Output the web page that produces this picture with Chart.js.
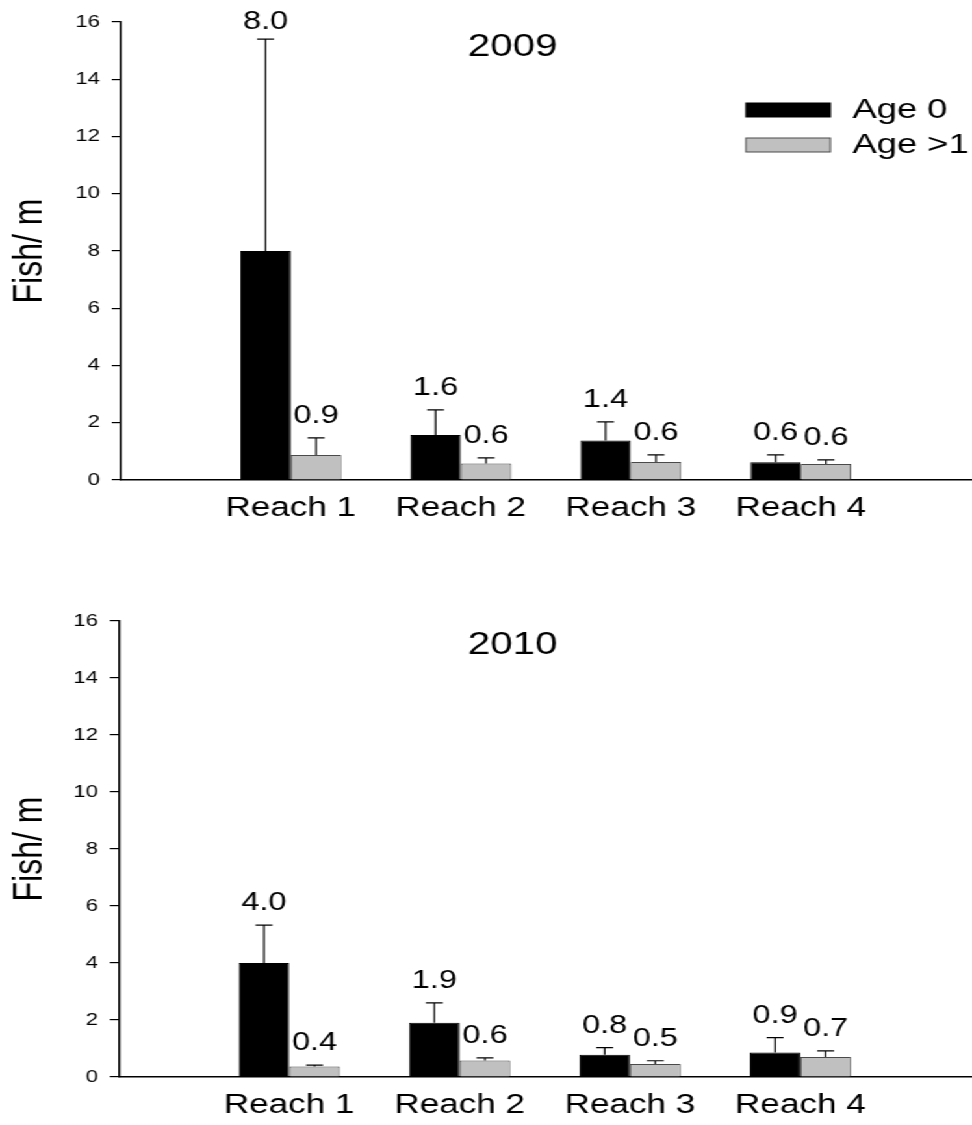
<!DOCTYPE html>
<html>
<head>
<meta charset="utf-8">
<script src="https://cdn.jsdelivr.net/npm/chart.js@4.4.1/dist/chart.umd.min.js"></script>
<style>
    html, body { margin: 0; padding: 0; background: #fff; overflow: hidden; }
    /* the figure is stretched horizontally, so draw narrow and widen it */
    .stretch { width: 748px; transform: scaleX(1.2995); transform-origin: 0 0; }
    canvas { display: block; }
</style>
</head>
<body>
<div class="stretch">
    <canvas id="chart-2009" width="748" height="560"></canvas>
    <canvas id="chart-2010" width="748" height="565"></canvas>
</div>
<script>
const reaches = ['Reach 1', 'Reach 2', 'Reach 3', 'Reach 4'];
const seriesNames = ['Age 0', 'Age >1'];

// 2009 means and upper error (added on top of the mean)
const age0_2009 = [8.0, 1.57, 1.38, 0.62];
const age0Err_2009 = [7.4, 0.88, 0.65, 0.26];
const age1_2009 = [0.87, 0.58, 0.63, 0.56];
const age1Err_2009 = [0.6, 0.19, 0.25, 0.14];

// 2010
const age0_2010 = [4.0, 1.9, 0.78, 0.86];
const age0Err_2010 = [1.33, 0.7, 0.25, 0.52];
const age1_2010 = [0.37, 0.58, 0.46, 0.70];
const age1Err_2010 = [0.05, 0.09, 0.11, 0.22];

Chart.defaults.font.family = '"Liberation Sans", Arial, sans-serif';
Chart.defaults.color = '#000';
Chart.defaults.animation = false;

const errorBarsPlugin = {
    id: 'errorBars',
    afterDatasetsDraw(chart) {
        const ctx = chart.ctx;
        const y = chart.scales.y;
        ctx.save();
        chart.data.datasets.forEach((dataset, i) => {
            const meta = chart.getDatasetMeta(i);
            meta.data.forEach((bar, j) => {
                const value = dataset.data[j].y;
                const top = y.getPixelForValue(value + dataset.errors[j]);

                ctx.strokeStyle = '#000';
                ctx.lineWidth = 1.2;
                ctx.beginPath();
                ctx.moveTo(bar.x, bar.y);
                ctx.lineTo(bar.x, top);
                ctx.moveTo(bar.x - 6.5, top);
                ctx.lineTo(bar.x + 6.5, top);
                ctx.stroke();

                ctx.fillStyle = '#000';
                ctx.font = '25px "Liberation Sans", Arial, sans-serif';
                ctx.textAlign = 'center';
                ctx.textBaseline = 'middle';
                ctx.fillText(value.toFixed(1), bar.x, Math.max(top - 22, 22));
            });
        });
        ctx.restore();
    }
};

function yearTitlePlugin(text, x, y) {
    return {
        id: 'yearTitle',
        afterDraw(chart) {
            const ctx = chart.ctx;
            ctx.save();
            ctx.fillStyle = '#000';
            ctx.font = '31px "Liberation Sans", Arial, sans-serif';
            ctx.textAlign = 'center';
            ctx.textBaseline = 'middle';
            ctx.fillText(text, x, y);
            ctx.restore();
        }
    };
}

const boxLegendPlugin = {
    id: 'boxLegend',
    afterDraw(chart) {
        const ctx = chart.ctx;
        const rows = [110, 145];
        ctx.save();
        chart.data.datasets.forEach((dataset, i) => {
            const cy = rows[i];
            ctx.fillStyle = dataset.backgroundColor;
            ctx.strokeStyle = dataset.borderColor;
            ctx.lineWidth = 1;
            ctx.fillRect(574, cy - 7, 65, 14);
            ctx.strokeRect(574, cy - 7, 65, 14);

            ctx.fillStyle = '#000';
            ctx.font = '28px "Liberation Sans", Arial, sans-serif';
            ctx.textAlign = 'left';
            ctx.textBaseline = 'middle';
            ctx.fillText(dataset.label, 656, cy);
        });
        ctx.restore();
    }
};

function makeChart(canvasId, year, age0, age0Err, age1, age1Err, layout, withLegend) {
    const toPoints = values => values.map((v, i) => ({x: i + 1, y: v}));

    const plugins = [errorBarsPlugin, yearTitlePlugin(year, 394.6, layout.titleY)];
    if (withLegend) {
        plugins.push(boxLegendPlugin);
    }

    return new Chart(document.getElementById(canvasId), {
        type: 'bar',
        data: {
            datasets: [{
                label: seriesNames[0],
                data: toPoints(age0),
                errors: age0Err,
                backgroundColor: '#000000',
                borderColor: '#000000',
                borderWidth: 1,
            }, {
                label: seriesNames[1],
                data: toPoints(age1),
                errors: age1Err,
                backgroundColor: '#c0c0c0',
                borderColor: '#4a4a4a',
                borderWidth: 1,
            }]
        },
        options: {
            responsive: false,
            layout: {
                padding: {top: layout.top, left: 0, right: 1, bottom: 0}
            },
            categoryPercentage: 0.594,
            barPercentage: 1.0,
            plugins: {
                legend: {display: false},
                tooltip: {enabled: false}
            },
            scales: {
                x: {
                    type: 'linear',
                    offset: false,
                    min: 0,
                    max: 5,
                    grid: {display: false, drawTicks: false},
                    border: {display: true, color: '#000', width: 1.5},
                    ticks: {
                        stepSize: 1,
                        autoSkip: false,
                        maxRotation: 0,
                        padding: 12,
                        font: {size: 27},
                        callback: value => reaches[value - 1] ?? ''
                    },
                    afterFit: scale => {
                        scale.height = layout.xHeight;
                        scale.paddingLeft = 0;
                        scale.paddingRight = 0;
                    }
                },
                y: {
                    min: 0,
                    max: 16,
                    grid: {
                        display: true,
                        drawOnChartArea: false,
                        drawTicks: true,
                        tickLength: 7,
                        color: '#000',
                        lineWidth: 1.2
                    },
                    border: {display: true, color: '#000', width: 1.5},
                    ticks: {stepSize: 2, padding: 9, font: {size: 17}},
                    title: {
                        display: true,
                        text: 'Fish/ m',
                        font: {size: 32, lineHeight: 1},
                        padding: {top: 7, bottom: 0}
                    },
                    afterFit: scale => { scale.width = layout.yWidth; }
                }
            }
        },
        plugins: plugins
    });
}

makeChart('chart-2009', '2009', age0_2009, age0Err_2009, age1_2009, age1Err_2009,
    {top: 22, xHeight: 80, yWidth: 93, titleY: 47}, true);
makeChart('chart-2010', '2010', age0_2010, age0Err_2010, age1_2010, age1Err_2010,
    {top: 61, xHeight: 48, yWidth: 91.5, titleY: 85}, false);
</script>
</body>
</html>
